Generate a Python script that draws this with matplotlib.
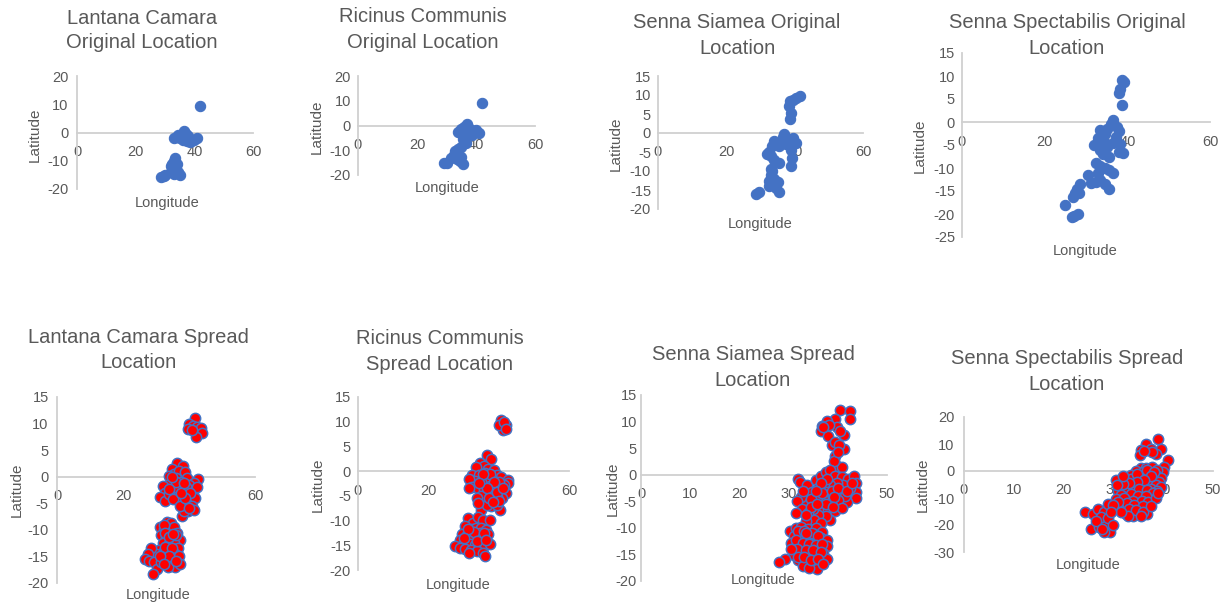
import matplotlib.pyplot as plt

plt.rcParams['font.family'] = ['Liberation Sans', 'DejaVu Sans']
plt.rcParams['axes.unicode_minus'] = False

TEXT = '#595959'
AXIS = '#D0D0D0'
BLUE = '#4472C4'
RED = '#FF0000'

# (longitude, latitude) pairs per species
lantana_orig = [
    (41.9, 9.5), (36.5, 0.5), (37, -0.5), (35.5, -1), (34, -1.5), (33, -2), (36, -2.5),
    (37.5, -3), (38.5, -3.5), (40, -2.5), (41, -2), (39, -3), (35, -2), (36.5, -1.5),
    (34.5, -0.8), (37.8, -1.2), (33.5, -9), (33, -10), (32.5, -11), (32, -12), (33.5, -12.5),
    (34, -11), (33, -13.5), (34.5, -14), (35, -15), (32, -14), (29.5, -15.5), (28.5, -15.8),
    (30, -15.2), (33, -14.8),
]
ricinus_orig = [
    (42, 9), (37, 0.5), (36, -0.5), (35, -1.5), (34, -2.5), (36.5, -2), (38, -1.5),
    (39.5, -2.5), (41, -3), (40, -2), (37.5, -3.5), (36, -4), (35.5, -5.5), (36.5, -7),
    (35, -8.5), (34, -9.5), (33, -10.5), (32.5, -12), (31.5, -13), (33.5, -13.5),
    (34.5, -14.5), (35.5, -15.5), (30, -15), (29, -15.3), (33, -11.5), (35, -12.8),
    (38.5, -4), (34.8, -3),
]
siamea_orig = [
    (41.6, 9.8), (40.5, 9.2), (39.5, 8.8), (38.6, 8.5), (38.3, 7), (38.8, 5.2), (38.5, 3.8),
    (37, -0.3), (36.5, -1), (38, -1.5), (39.5, -1.2), (40.5, -2.5), (36, -2.5), (37.5, -3),
    (35.5, -3.5), (34, -2), (33.5, -3.5), (39, -4.5), (39.2, -6.5), (39, -8.8),
    (32.5, -5), (33, -6), (34, -7), (35.5, -8), (32, -5.5),
    (33.5, -10), (33, -11), (32.5, -12.5), (34, -12), (33.5, -13.5), (34.5, -14.5),
    (35.5, -15.5), (32.5, -14), (28.8, -16), (29.5, -15.5), (35, -13), (33, -9.5),
]
spectabilis_orig = [
    (38.6, 9.2), (39.3, 8.7), (38.2, 7.2), (37.9, 6.3), (38.8, 3.8),
    (36.5, 0.5), (36, -0.5), (37.5, -1), (35, -1.5), (33.5, -1.8), (34.5, -2.5), (38, -2),
    (37.3, -3.2), (33, -3.5), (34.5, -4.5), (32, -5), (33.5, -6), (35, -5.5), (36.5, -4.5),
    (38.3, -4.8), (39, -6.8), (38, -6.5), (34, -7), (35.5, -7.5),
    (32.5, -9), (33.5, -9.5), (34.5, -10), (33, -11), (35.5, -10.5), (36.5, -11),
    (30.5, -11.5), (33.5, -12.5), (32.5, -13), (34.5, -13.5), (31.2, -13.2), (35.5, -14.5),
    (28.5, -13.5), (27.8, -14.5), (27.3, -15.5), (26.8, -16.2), (24.8, -18), (26.5, -20.7),
    (27.2, -20.4), (28, -20), (28.3, -15.5),
]

lantana_spread = [
    (41.8, 11.1), (40.1, 9.9), (41.3, 9.6), (42.3, 9.3), (43.6, 9.2), (43.8, 8.2), (42.1, 7.4),
    (39.8, 9.0), (41, 8.7),
    (36.3, 2.5), (38.1, 2.0), (34.7, 1.4), (35.5, 0.5), (37, 1), (38.8, 0.8), (36.2, -0.2),
    (34, 0.2), (39.5, -0.3), (42.8, -0.4), (41.5, -1.2), (40, -1.5), (37.5, -1), (35, -1.3),
    (33.5, -1.5), (32.2, -1.7), (32.7, -3), (31.2, -3.9), (32.7, -4.5), (34, -3.2),
    (35.5, -2.5), (36.8, -2.2), (38.2, -2.8), (39.5, -3.3), (41.3, -2.9), (42.5, -2),
    (40.5, -4.2), (41.8, -4), (39.2, -5), (40.8, -5.5), (39.8, -6.4), (37.8, -7.3),
    (38.5, -6.5), (38, -4.2), (36.5, -3.8), (35.2, -4.2), (41.5, -6.2), (37.2, -5.5),
    (39, -2), (40.2, -3), (38.8, -4), (40, -5.8), (36, -1), (37.5, -3), (38.5, -1.2),
    (33.8, -2.3), (35, 0),
    (33.2, -8.6), (34.5, -8.8), (31.2, -9.5), (32.5, -9.8), (33.8, -10), (35.5, -9.5),
    (36.5, -10.5), (31.5, -11), (33, -11.3), (34.8, -11.5), (37.3, -12), (32, -12.5),
    (33.5, -12.8), (35.5, -12.5), (36.8, -13.5), (31, -13.8), (32.5, -14), (34, -14.2),
    (35.8, -14.5), (37, -15), (30, -14.5), (28.5, -13.5), (27.5, -14.5), (26.6, -15.5),
    (28, -15.8), (29.5, -16), (30.2, -17.4), (29.2, -18.3), (31.5, -16), (33, -15.8),
    (34.2, -16.8), (35.8, -17), (37.3, -16.4), (33.5, -17), (32.5, -9), (34, -13.2), (36, -11),
    (32.8, -10.5), (34, -11.3), (35.2, -10.8), (32.8, -13.2), (35, -13.5), (33.8, -15),
    (36, -15.8), (31.2, -15), (32.5, -16.5),
]
ricinus_spread = [
    (40.8, 10.4), (42, 9.4), (41.3, 8.4), (40.2, 9.4), (41.5, 10), (42.2, 8.6),
    (36.7, 3.2), (37.9, 2.5), (34.7, 1.7), (35.8, 1), (33.5, 0.8), (37, 0.5), (38.8, 0.3),
    (36.2, -0.3), (32.3, -0.7), (34.5, -0.8), (39.5, -0.8), (40.8, -1.2), (42.7, -1.7),
    (42.7, -2.4), (41.5, -2.8), (38, -1.5), (36.5, -1.8), (35, -2.2), (33.2, -2),
    (31.5, -1.5), (32.5, -3.2), (34, -3.5), (35.8, -3.7), (37.5, -3), (39, -3.5), (40.5, -4),
    (42, -4.5), (41, -5.5), (39.5, -5.2), (38, -4.8), (36.5, -5.5), (35, -5), (33.7, -5.4),
    (35.1, -7.8), (37.9, -7.1), (40.3, -7.8), (39.4, -6.8), (36.8, -6.8), (34.2, -6.5),
    (31.5, -3.5), (40, -2.2),
    (37.5, -0.5), (38.8, -2.2), (36.8, -3.5), (37.2, -5.5), (39.5, -4.2), (41.3, -3.5),
    (35.5, -0.5), (34.5, -2.5), (40, -6), (38.5, -6.2),
    (31.4, -9.4), (32.8, -10.4), (34, -9.2), (35.5, -9.8), (37.5, -9.8), (30.5, -11),
    (32, -11.8), (33.5, -11.5), (35, -11.5), (36.5, -12), (37, -12.8), (29.5, -12.8),
    (31, -13), (32.5, -13.3), (34, -13.5), (35.5, -13.8), (29, -14), (30.2, -14.5),
    (31.8, -14.8), (33.2, -15), (34.8, -15.2), (36.2, -15), (37.5, -14.8), (27.6, -15.2),
    (29, -15.5), (30.5, -15.8), (32, -16), (33.8, -16.2), (35.5, -16.5), (36.1, -17.2),
    (34.6, -12.5), (33, -12.3), (31.2, -11.8), (33.8, -14.2), (35.8, -12.5), (36.5, -14),
    (31.5, -16.5), (30, -13.5),
]
siamea_spread = [
    (40.5, 12.1), (42.5, 11.9), (42.5, 10.4), (39.5, 10.5), (37.8, 10.2), (36.8, 9.2),
    (36.5, 8.3), (38.1, 7.3), (39.8, 8.9), (41.2, 7.4), (40.5, 8.2), (38.2, 9.3), (37, 8.9),
    (38.8, 5.5), (39.5, 6.2), (41.2, 4.8), (40.2, 5.5), (39.5, 3.6), (39.8, 1.7), (40.8, 1.4),
    (39.2, 2.6), (40, 4.2),
    (32, -0.8), (32.4, -1.4), (33.7, -2), (34.8, -3.3), (35.5, -1), (36.5, -0.3), (37.5, 0.5),
    (38.5, 0.8), (39.5, -0.2), (40.8, -0.5), (42, -0.8), (43.2, -0.2), (43.6, -1.5),
    (43.6, -3.3), (43.6, -4.3), (41.9, -5.2), (42.5, -2.5), (41, -2), (39.8, -1.5), (38.5, -2),
    (37.2, -1.8), (36, -2.5), (37.8, -3.2), (39, -3.5), (40.5, -3.2), (41.5, -4), (40, -4.8),
    (38.5, -5), (37, -4.5), (35.8, -4.2), (36.5, -6), (38, -6.5), (39.5, -6.8), (38.5, -8.6),
    (37.5, -7.8), (36, -7.5), (35, -6.5), (33.5, -5.5), (32.5, -4.2), (31.8, -5), (32.8, -6.5),
    (34, -7.2), (35.2, -8.5), (36.5, -9), (31.5, -7.2), (33.5, -8.8), (34.5, -4.5),
    (36.8, -3.5), (40.8, -6.2),
    (37.8, -0.8), (38.8, -3), (40, -2.5), (39.2, -4.2), (36.5, -1.5), (35.5, -3),
    (41.8, -3), (42.8, -1.5), (37.5, -5.5), (39, -6), (34.5, -6), (35.8, -5.5), (33, -3),
    (33.5, -7.5),
    (30.3, -10.6), (31.5, -10), (32.5, -9.8), (34, -10.2), (35.5, -10), (36.8, -10.8),
    (31, -11.5), (32.2, -11.8), (33.5, -12), (35, -12.3), (36.5, -12), (37.8, -12.2),
    (30.5, -12.8), (31.8, -13.2), (33, -13.5), (34.5, -13.8), (36, -13.5), (37.8, -13.4),
    (31, -14.5), (32.5, -14.8), (34, -15), (35.5, -15), (37, -14.8), (31, -15.2),
    (29.3, -15.9), (28, -16.5), (32, -16), (33.5, -16.3), (35, -16.5), (36.5, -16.2),
    (37.8, -15.9), (33, -17.2), (35.8, -17.8), (34.2, -17.5), (32.8, -11), (35.2, -11.2),
    (32, -10.5), (33.2, -10.5), (34.8, -11), (36, -11.5), (31.5, -12.2), (33, -12.8),
    (34.2, -13), (35.5, -13.2), (36.8, -13), (31.8, -14), (33.5, -14.2), (35, -14.2),
    (36.5, -14.5), (32, -15.5), (33.2, -15.5), (34.5, -16), (36, -15.8), (37, -16.8),
    (33.5, -11), (30.5, -14),
]
spectabilis_spread = [
    (38.9, 11.9), (39.6, 8.3), (36.6, 10), (37.6, 8.3), (35.6, 7.7), (35.3, 5.8), (38.6, 6.4),
    (37.8, 7), (40.9, 3.9), (40.2, 1.5), (39.9, -0.4), (36.2, 7.5),
    (35.5, 1), (36.5, 1.2), (37.8, 1.5), (38.8, 0.5), (34.5, 0), (36, -0.5), (37.2, -0.8),
    (38.5, -1.5), (39.5, -2.5), (33.5, -1.5), (35, -2), (36.5, -2.5), (38, -3), (39.2, -4),
    (32.5, -3), (30.6, -3.5), (34, -3.5), (35.5, -4), (37, -4.5), (38.5, -5), (39.5, -6),
    (31.9, -6), (33, -5), (34.5, -5.5), (36, -6), (37.5, -6.5), (38.8, -7.5), (31, -7.5),
    (32.5, -7.5), (34, -7.8), (35.5, -8), (37, -8.5), (38.2, -9), (31.5, -9), (33, -9.5),
    (34.5, -10), (36, -10), (37.5, -10.5), (30.5, -10.5), (32, -11), (33.5, -11.5), (35, -12),
    (36.5, -12), (31.5, -12.5), (33, -13), (34.5, -13.5), (35.8, -14), (32, -14.5),
    (33.8, -15), (35, -15.5), (36.8, -15.8), (34, -16.8), (32.5, -16), (30.5, -13.5),
    (33.5, -2.8),
    (34.8, -1), (36.8, 0.3), (38.2, -0.5), (37.6, -2), (36.2, -3.5), (34.7, -4.2),
    (33.2, -4.3), (32, -4.8), (35.2, -6.8), (36.8, -7.2), (38, -8), (33.5, -8.5), (35, -9.2),
    (36.5, -9.2), (32.2, -10), (34, -11), (35.8, -11), (37, -11.5), (32.8, -12), (34.2, -12.5),
    (36, -13), (31, -11.5), (33.2, -14), (34.5, -14.5), (36, -15), (38.5, -10), (39, -8),
    (30.8, -5), (32, -2), (37.5, -12.8), (35.5, -16.5), (33, -16.5), (31.5, -15),
    (24.3, -15.2), (25.9, -15.8), (25.6, -21.4), (27.2, -20.8), (28.6, -19.6), (29.3, -22.7),
    (26.9, -14), (28.2, -15.2), (28.9, -12.1), (29.9, -12.7), (27.5, -17), (29, -17.5),
    (28.2, -22.5), (30, -20), (26.5, -18.5), (29.5, -15), (27.8, -21.5),
]

titles = [
    ('Lantana Camara', 'Original Location'), ('Ricinus Communis', 'Original Location'),
    ('Senna Siamea Original', 'Location'), ('Senna Spectabilis Original', 'Location'),
    ('Lantana Camara Spread', 'Location'), ('Ricinus Communis', 'Spread Location'),
    ('Senna Siamea Spread', 'Location'), ('Senna Spectabilis Spread', 'Location'),
]
series = [lantana_orig, ricinus_orig, siamea_orig, spectabilis_orig,
          lantana_spread, ricinus_spread, siamea_spread, spectabilis_spread]

x_ticks = [range(0, 61, 20)] * 6 + [range(0, 51, 10)] * 2
y_ticks = [range(-20, 21, 10), range(-20, 21, 10), range(-20, 16, 5), range(-25, 16, 5),
           range(-20, 16, 5), range(-20, 16, 5), range(-20, 16, 5), range(-30, 21, 10)]

# layout in pixels: axes box (left, right, top, bottom), title line centres, label centres
boxes = [(77, 253, 76, 189), (358, 535, 76, 175), (658, 863, 76, 209), (962, 1210, 53, 237),
         (57, 255, 397, 583), (358, 569, 397, 570), (641, 887, 395, 581), (964, 1213, 417, 552)]
title_x = [142, 423, 737, 1067, 138, 440, 753, 1067]
title_y = [(18, 43), (17, 42), (22, 48), (22, 49), (337, 363), (338, 365), (355, 380), (358, 385)]
ylab_pos = [(35, 135), (317, 127), (616, 144), (920, 146),
            (17, 490), (318, 485), (613, 489), (923, 485)]
xlab_pos = [(167, 203), (447, 188), (760, 224), (1085, 251),
            (158, 595), (458, 585), (763, 580), (1088, 565)]
ypads = [6, 5, 5, 5, 6, 5, 3, 7]

W, H = 1227, 605
fig = plt.figure(figsize=(W / 100, H / 100), dpi=100)

for i in range(8):
    x0, x1, yt, yb = boxes[i]
    ax = fig.add_axes([x0 / W, 1 - yb / H, (x1 - x0) / W, (yb - yt) / H])
    ax.patch.set_alpha(0)
    xt, yt_ = list(x_ticks[i]), list(y_ticks[i])
    ax.set_xlim(xt[0], xt[-1])
    ax.set_ylim(yt_[0], yt_[-1])
    ax.set_xticks(xt)
    ax.set_yticks(yt_)
    for s in ('top', 'right'):
        ax.spines[s].set_visible(False)
    ax.spines['bottom'].set_position(('data', 0))
    for s in ('left', 'bottom'):
        ax.spines[s].set_color(AXIS)
        ax.spines[s].set_linewidth(1.3)
    ax.tick_params(length=0, labelsize=10.5, colors=TEXT)
    ax.tick_params(axis='x', pad=9)
    ax.tick_params(axis='y', pad=ypads[i])

    lon = [p[0] for p in series[i]]
    lat = [p[1] for p in series[i]]
    if i < 4:
        ax.scatter(lon, lat, s=55, color=BLUE, edgecolors=BLUE, linewidths=0.8, zorder=3)
    else:
        ax.scatter(lon, lat, s=55, color=RED, edgecolors=BLUE, linewidths=1.1, zorder=3)

    for line, ty in zip(titles[i], title_y[i]):
        fig.text(title_x[i] / W, 1 - ty / H, line, ha='center', va='center',
                 fontsize=14.5, color=TEXT)
    fig.text(ylab_pos[i][0] / W, 1 - ylab_pos[i][1] / H, 'Latitude', rotation=90,
             ha='center', va='center', fontsize=11, color=TEXT)
    fig.text(xlab_pos[i][0] / W, 1 - xlab_pos[i][1] / H, 'Longitude',
             ha='center', va='center', fontsize=10.5, color=TEXT)

fig.savefig('out.png', dpi=100, facecolor='white')
plt.close(fig)
